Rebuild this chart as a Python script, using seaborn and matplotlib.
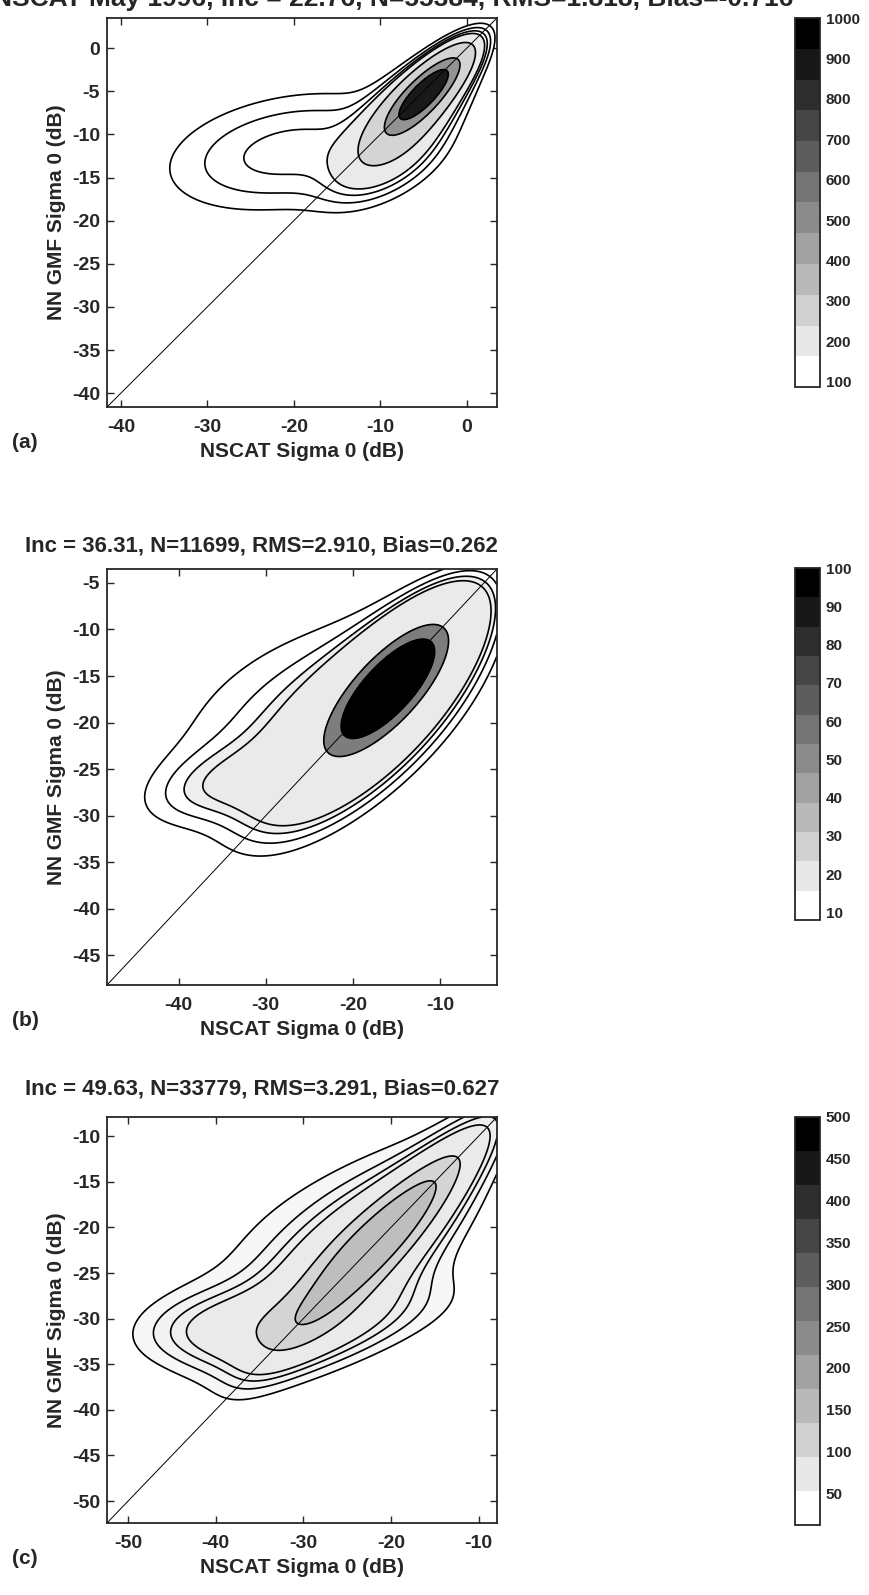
import numpy as np
import matplotlib
matplotlib.use("Agg")
import matplotlib as mpl
import matplotlib.pyplot as plt
import seaborn as sns

# ---- values ----
# density components per panel: centre (dB), ridge angle (deg), spread along / across, peak count
a_cx = [-4.5, -6.5, -20.5, -9.0]
a_cy = [-4.8, -7.5, -12.0, -13.5]
a_ang = [45, 45, 10, 30]
a_sa = [4.0, 5.0, 11.0, 5.0]
a_sv = [1.3, 2.2, 5.0, 2.5]
a_peak = [900, 300, 90, 60]

b_cx = [-15.5, -19.0, -26.0, -35.0]
b_cy = [-15.8, -20.0, -19.0, -26.5]
b_ang = [45, 42, 25, 15]
b_sa = [6.0, 9.0, 13.0, 6.0]
b_sv = [2.3, 3.6, 7.0, 2.5]
b_peak = [130, 30, 7, 6]

c_cx = [-20.5, -24.0, -38.5, -23.0, -31.0]
c_cy = [-20.5, -23.5, -31.0, -30.5, -22.0]
c_ang = [45, 40, 5, 15, 28]
c_sa = [10.0, 10.0, 7.0, 10.0, 14.0]
c_sv = [2.0, 4.0, 2.8, 2.8, 8.0]
c_peak = [140, 80, 45, 25, 20]

# contour levels and colour scale
a_levels = [40, 60, 80, 100, 200, 500, 800]
b_levels = [4, 6, 8, 10, 60, 90]
c_levels = [20, 30, 40, 50, 100, 150]
a_vmax, b_vmax, c_vmax = 1000, 100, 500
a_cbmin, b_cbmin, c_cbmin = 87, 8, 12
a_cbticks = [100, 200, 300, 400, 500, 600, 700, 800, 900, 1000]
b_cbticks = [10, 20, 30, 40, 50, 60, 70, 80, 90, 100]
c_cbticks = [50, 100, 150, 200, 250, 300, 350, 400, 450, 500]

# axes ranges and ticks
a_lim = (-41.6, 3.5)
b_lim = (-48.2, -3.5)
c_lim = (-52.4, -7.9)
a_xticks = [-40, -30, -20, -10, 0]
a_yticks = [0, -5, -10, -15, -20, -25, -30, -35, -40]
b_xticks = [-40, -30, -20, -10]
b_yticks = [-5, -10, -15, -20, -25, -30, -35, -40, -45]
c_xticks = [-50, -40, -30, -20, -10]
c_yticks = [-10, -15, -20, -25, -30, -35, -40, -45, -50]

titles = ["NSCAT May 1996, Inc = 22.76, N=55384, RMS=1.818, Bias=-0.716",
          "Inc = 36.31, N=11699, RMS=2.910, Bias=0.262",
          "Inc = 49.63, N=33779, RMS=3.291, Bias=0.627"]
panel_tags = ["(a)", "(b)", "(c)"]

# ---- style ----
sns.set_style("ticks")
plt.rcParams["font.family"] = ["Liberation Sans", "DejaVu Sans"]
plt.rcParams["font.weight"] = "bold"
plt.rcParams["axes.unicode_minus"] = False

W, H = 869, 1595
fig = plt.figure(figsize=(W / 100, H / 100), dpi=100)
fig.patch.set_facecolor("white")
gray = mpl.colormaps["gray_r"]


def px_axes(left, top, right, bottom):
    return fig.add_axes([left / W, 1 - bottom / H, (right - left) / W, (bottom - top) / H])


def density(X, Y, cx, cy, ang, sa, sv, peak):
    Z = np.zeros_like(X)
    for x0, y0, t, s1, s2, p in zip(cx, cy, ang, sa, sv, peak):
        t = np.deg2rad(t)
        dx, dy = X - x0, Y - y0
        u = dx * np.cos(t) + dy * np.sin(t)
        v = -dx * np.sin(t) + dy * np.cos(t)
        Z += p * np.exp(-0.5 * ((u / s1) ** 2 + (v / s2) ** 2))
    return Z


def band_colour(level, cbmin, vmax):
    # outline-only bands below the colour scale, printed halftone is a bit
    # lighter in the mid range and solid black at the top
    if level < cbmin:
        return "white"
    frac = level / vmax
    return gray(0.85 * frac if frac < 0.75 else min(frac + 0.1, 1.0))


panels = [
    (a_cx, a_cy, a_ang, a_sa, a_sv, a_peak, a_levels, a_vmax, a_cbmin, a_cbticks,
     a_lim, a_xticks, a_yticks, (107, 18, 497, 407), (795, 18, 820, 387)),
    (b_cx, b_cy, b_ang, b_sa, b_sv, b_peak, b_levels, b_vmax, b_cbmin, b_cbticks,
     b_lim, b_xticks, b_yticks, (107, 569, 497, 985), (795, 568, 820, 920)),
    (c_cx, c_cy, c_ang, c_sa, c_sv, c_peak, c_levels, c_vmax, c_cbmin, c_cbticks,
     c_lim, c_xticks, c_yticks, (107, 1117, 497, 1523), (795, 1117, 820, 1525)),
]

for i, (cx, cy, ang, sa, sv, peak, levels, vmax, cbmin, cbticks,
        lim, xt, yt, box, cbox) in enumerate(panels):
    ax = px_axes(*box)
    g = np.linspace(lim[0], lim[1], 400)
    X, Y = np.meshgrid(g, g)
    Z = density(X, Y, cx, cy, ang, sa, sv, peak)

    fill_cols = [band_colour(l, cbmin, vmax) for l in levels]
    ax.contourf(X, Y, Z, levels=levels + [Z.max() + 1], colors=fill_cols)
    ax.contour(X, Y, Z, levels=levels, colors="black", linewidths=1.2)
    ax.axline((0, 0), slope=1, color="black", lw=0.7)

    ax.set_xlim(lim)
    ax.set_ylim(lim)
    ax.set_xticks(xt)
    ax.set_yticks(yt)
    ax.tick_params(direction="in", top=True, right=True, length=5, width=1,
                   labelsize=14)
    ax.tick_params(axis="x", pad=9)
    ax.tick_params(axis="y", pad=5)
    for s in ax.spines.values():
        s.set_linewidth(1.3)
    ax.set_xlabel("NSCAT Sigma 0 (dB)", fontsize=15, fontweight="bold", labelpad=4)
    ax.set_ylabel("NN GMF Sigma 0 (dB)", fontsize=15, fontweight="bold", labelpad=4)

    # colour bar
    cax = px_axes(*cbox)
    sm = mpl.cm.ScalarMappable(norm=mpl.colors.Normalize(cbmin, vmax),
                               cmap=gray.resampled(12))
    cb = fig.colorbar(sm, cax=cax, ticks=cbticks)
    cb.outline.set_linewidth(1.3)
    cax.tick_params(direction="in", left=True, right=True, length=4, width=1,
                    labelsize=11, pad=4)

    # panel tag
    fig.text(12 / W, 1 - (box[3] + 36) / H, panel_tags[i], fontsize=15,
             fontweight="bold", va="center", ha="left")

# titles (the first one runs off the top edge, as in the source figure)
fig.text(793 / W, 1 - 6 / H, titles[0], fontsize=19, fontweight="bold",
         ha="right", va="baseline")
fig.text(25 / W, 1 - 546 / H, titles[1], fontsize=16, fontweight="bold",
         ha="left", va="center")
fig.text(25 / W, 1 - 1089 / H, titles[2], fontsize=16, fontweight="bold",
         ha="left", va="center")

fig.savefig("out.png", dpi=100, facecolor="white")
